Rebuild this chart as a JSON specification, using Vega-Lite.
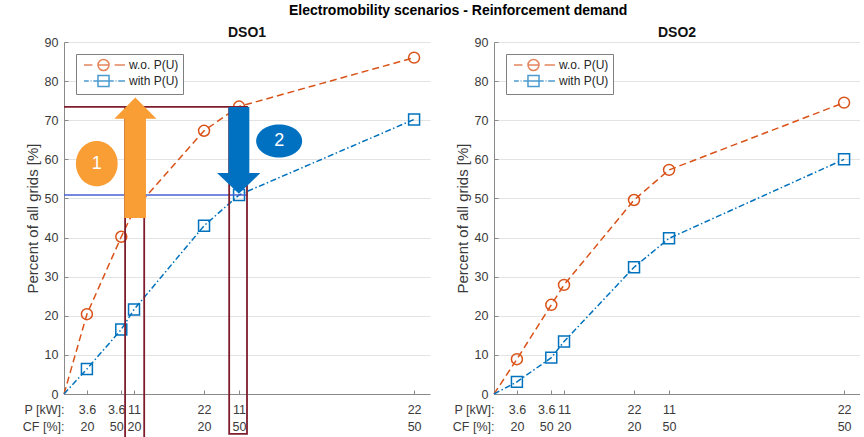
{
  "$schema": "https://vega.github.io/schema/vega-lite/v6.json",
  "background": "white",
  "padding": {"left": 22, "top": 4, "right": 0, "bottom": 0},
  "title": {"text": "Electromobility scenarios - Reinforcement demand", "fontSize": 14, "fontWeight": "bold", "color": "#000000", "anchor": "middle", "dx": 17, "offset": 8},
  "config": {
    "font": "Liberation Sans",
    "view": {"stroke": null},
    "axis": {"labelFont": "Liberation Sans", "labelFontSize": 12.5, "labelColor": "#3a3a3a", "domainColor": "#8a8a8a", "tickColor": "#8a8a8a", "gridColor": "#e3e3e3", "titleFont": "Liberation Sans", "titleFontSize": 15, "titleFontWeight": "normal", "titleColor": "#3a3a3a"},
    "title": {"font": "Liberation Sans", "fontSize": 14, "fontWeight": "bold", "color": "#111111"}
  },
  "resolve": {"scale": {"color": "independent", "shape": "independent"}, "legend": {"color": "independent", "shape": "independent"}},
  "datasets": {
    "curves": [
      {"dso": "DSO1", "curve": "w.o. P(U)", "pcf": 0, "share": 0},
      {"dso": "DSO1", "curve": "w.o. P(U)", "pcf": 72, "share": 20.4},
      {"dso": "DSO1", "curve": "w.o. P(U)", "pcf": 180, "share": 40.2},
      {"dso": "DSO1", "curve": "w.o. P(U)", "pcf": 220, "share": 47},
      {"dso": "DSO1", "curve": "w.o. P(U)", "pcf": 440, "share": 67.3},
      {"dso": "DSO1", "curve": "w.o. P(U)", "pcf": 550, "share": 73.5},
      {"dso": "DSO1", "curve": "w.o. P(U)", "pcf": 1100, "share": 86.0},
      {"dso": "DSO1", "curve": "with P(U)", "pcf": 0, "share": 0},
      {"dso": "DSO1", "curve": "with P(U)", "pcf": 72, "share": 6.4},
      {"dso": "DSO1", "curve": "with P(U)", "pcf": 180, "share": 16.5},
      {"dso": "DSO1", "curve": "with P(U)", "pcf": 220, "share": 21.6},
      {"dso": "DSO1", "curve": "with P(U)", "pcf": 440, "share": 43.0},
      {"dso": "DSO1", "curve": "with P(U)", "pcf": 550, "share": 50.9},
      {"dso": "DSO1", "curve": "with P(U)", "pcf": 1100, "share": 70.2},
      {"dso": "DSO2", "curve": "w.o. P(U)", "pcf": 0, "share": 0},
      {"dso": "DSO2", "curve": "w.o. P(U)", "pcf": 72, "share": 8.9},
      {"dso": "DSO2", "curve": "w.o. P(U)", "pcf": 180, "share": 22.8},
      {"dso": "DSO2", "curve": "w.o. P(U)", "pcf": 220, "share": 27.9},
      {"dso": "DSO2", "curve": "w.o. P(U)", "pcf": 440, "share": 49.6},
      {"dso": "DSO2", "curve": "w.o. P(U)", "pcf": 550, "share": 57.3},
      {"dso": "DSO2", "curve": "w.o. P(U)", "pcf": 1100, "share": 74.5},
      {"dso": "DSO2", "curve": "with P(U)", "pcf": 0, "share": 0},
      {"dso": "DSO2", "curve": "with P(U)", "pcf": 72, "share": 3.1},
      {"dso": "DSO2", "curve": "with P(U)", "pcf": 180, "share": 9.3},
      {"dso": "DSO2", "curve": "with P(U)", "pcf": 220, "share": 13.4},
      {"dso": "DSO2", "curve": "with P(U)", "pcf": 440, "share": 32.4},
      {"dso": "DSO2", "curve": "with P(U)", "pcf": 550, "share": 39.8},
      {"dso": "DSO2", "curve": "with P(U)", "pcf": 1100, "share": 60.0}
    ]
  },
  "spacing": 22,
  "hconcat": [
    {
      "width": 366,
      "height": 352,
      "title": {"text": "DSO1", "offset": -4},
      "layer": [
        {
          "data": {"name": "curves"},
          "transform": [{"filter": "datum.dso == 'DSO1' && datum.curve == 'w.o. P(U)'"}],
          "mark": {"type": "line", "strokeWidth": 1.5, "color": "#D95319", "strokeDash": [7, 4]},
          "encoding": {
            "x": {"field": "pcf", "type": "quantitative", "title": null, "scale": {"domain": [0, 1150], "nice": false, "zero": false},
              "axis": {"values": [0, 72, 180, 220, 440, 550, 1100], "grid": false, "tickSize": -4, "labelPadding": 13, "labelFlush": false, "labelOverlap": false, "labelBound": false, "labelBaseline": "top", "labelLineHeight": 17,
                "labelAlign": {"condition": {"test": "datum.value == 0", "value": "right"}, "value": "center"},
                "labelOffset": {"condition": {"test": "datum.value == 180", "value": -5}, "value": 0},
                "labelExpr": "datum.value == 0 ? ['P [kW]:', 'CF [%]:'] : datum.value == 72 ? ['3.6', '20'] : datum.value == 180 ? ['3.6', '50'] : datum.value == 220 ? ['11', '20'] : datum.value == 440 ? ['22', '20'] : datum.value == 550 ? ['11', '50'] : ['22', '50']"}},
            "y": {"field": "share", "type": "quantitative", "title": "Percent of all grids [%]", "scale": {"domain": [0, 90], "nice": false},
              "axis": {"values": [0, 10, 20, 30, 40, 50, 60, 70, 80, 90], "tickCount": 10, "labelOverlap": false, "grid": true, "tickSize": -4, "labelPadding": 10, "titlePadding": 4}}
          }
        },
        {
          "data": {"name": "curves"},
          "transform": [{"filter": "datum.dso == 'DSO1' && datum.curve == 'with P(U)'"}],
          "mark": {"type": "line", "strokeWidth": 1.5, "color": "#0072BD", "strokeDash": [6, 2.5, 1.5, 2.5]},
          "encoding": {
            "x": {"field": "pcf", "type": "quantitative", "title": null},
            "y": {"field": "share", "type": "quantitative", "title": "Percent of all grids [%]"}
          }
        },
        {
          "data": {"name": "curves"},
          "transform": [{"filter": "datum.dso == 'DSO1' && datum.pcf > 0 && datum.curve == 'w.o. P(U)'"}],
          "mark": {"type": "point", "shape": "circle", "filled": false, "size": 120, "strokeWidth": 1.5, "opacity": 1, "color": "#D95319"},
          "encoding": {
            "x": {"field": "pcf", "type": "quantitative", "title": null},
            "y": {"field": "share", "type": "quantitative", "title": "Percent of all grids [%]"}
          }
        },
        {
          "data": {"name": "curves"},
          "transform": [{"filter": "datum.dso == 'DSO1' && datum.pcf > 0 && datum.curve == 'with P(U)'"}],
          "mark": {"type": "point", "shape": "square", "filled": false, "size": 120, "strokeWidth": 1.5, "opacity": 1, "color": "#0072BD"},
          "encoding": {
            "x": {"field": "pcf", "type": "quantitative", "title": null},
            "y": {"field": "share", "type": "quantitative", "title": "Percent of all grids [%]"}
          }
        },
        {
          "data": {"name": "curves"},
          "transform": [{"filter": "datum.dso == 'DSO1' && datum.pcf == 0"}],
          "mark": {"type": "point", "filled": false, "strokeWidth": 1.5, "size": 0},
          "encoding": {
            "x": {"field": "pcf", "type": "quantitative", "title": null},
            "y": {"field": "share", "type": "quantitative", "title": "Percent of all grids [%]"},
            "color": {"field": "curve", "type": "nominal", "scale": {"domain": ["w.o. P(U)", "with P(U)"], "range": ["#D95319", "#0072BD"]},
              "legend": {"title": null, "orient": "top-left", "offset": 12, "padding": 4, "strokeColor": "#7f7f7f", "fillColor": "white", "labelFontSize": 12, "labelColor": "#262626", "symbolSize": 144, "rowPadding": -3, "labelOffset": 35, "symbolStrokeWidth": 1.5}},
            "shape": {"field": "curve", "type": "nominal", "scale": {"domain": ["w.o. P(U)", "with P(U)"], "range": ["M-0.5,0H0.9M1.83,0H3.67M4.6,0H6.33M1.83,0A0.92,0.92,0,1,0,3.67,0A0.92,0.92,0,1,0,1.83,0Z", "M-0.5,0H0.3M0.6,0H0.75M1.05,0H4.45M4.75,0H4.9M5.2,0H6.33M1.83,-0.92H3.67V0.92H1.83Z"]},
              "legend": {"title": null, "orient": "top-left", "offset": 12, "padding": 4, "strokeColor": "#7f7f7f", "fillColor": "white", "labelFontSize": 12, "labelColor": "#262626", "symbolSize": 144, "rowPadding": -3, "labelOffset": 35, "symbolStrokeWidth": 1.5}}
          }
        },
        {
          "data": {"values": [{"from": 0, "to": 576, "level": 73.4}]},
          "mark": {"type": "rule", "color": "#7f1d2d", "strokeWidth": 1.8},
          "encoding": {
            "x": {"field": "from", "type": "quantitative", "title": null},
            "x2": {"field": "to"},
            "y": {"field": "level", "type": "quantitative", "title": "Percent of all grids [%]"}
          }
        },
        {
          "data": {"values": [{"from": 0, "to": 576, "level": 50.9}]},
          "mark": {"type": "rule", "color": "#4762d4", "strokeWidth": 1.5},
          "encoding": {
            "x": {"field": "from", "type": "quantitative", "title": null},
            "x2": {"field": "to"},
            "y": {"field": "level", "type": "quantitative", "title": "Percent of all grids [%]"}
          }
        },
        {
          "data": {"values": [{"left": 519, "right": 575, "low": -10.2, "high": 73.4}, {"left": 192, "right": 252, "low": -12, "high": 73.4}]},
          "mark": {"type": "rect", "fill": "transparent", "stroke": "#7f1d2d", "strokeWidth": 1.8},
          "encoding": {
            "x": {"field": "left", "type": "quantitative", "title": null},
            "x2": {"field": "right"},
            "y": {"field": "low", "type": "quantitative", "title": "Percent of all grids [%]"},
            "y2": {"field": "high"}
          }
        },
        {
          "data": {"values": [{"left": 189.5, "right": 257.5, "low": 45, "high": 70.6}]},
          "mark": {"type": "rect", "color": "#F99D35", "opacity": 1},
          "encoding": {
            "x": {"field": "left", "type": "quantitative", "title": null},
            "x2": {"field": "right"},
            "y": {"field": "low", "type": "quantitative", "title": "Percent of all grids [%]"},
            "y2": {"field": "high"}
          }
        },
        {
          "data": {"values": [{"pos": 158, "top": 70.4, "base": 70.4}, {"pos": 224, "top": 75.8, "base": 70.4}, {"pos": 290.5, "top": 70.4, "base": 70.4}]},
          "mark": {"type": "area", "color": "#F99D35", "opacity": 1},
          "encoding": {
            "x": {"field": "pos", "type": "quantitative", "title": null},
            "y": {"field": "top", "type": "quantitative", "title": "Percent of all grids [%]"},
            "y2": {"field": "base"}
          }
        },
        {
          "data": {"values": [{"left": 517, "right": 582.3, "low": 56.3, "high": 73.4}]},
          "mark": {"type": "rect", "color": "#0070C0", "opacity": 1},
          "encoding": {
            "x": {"field": "left", "type": "quantitative", "title": null},
            "x2": {"field": "right"},
            "y": {"field": "low", "type": "quantitative", "title": "Percent of all grids [%]"},
            "y2": {"field": "high"}
          }
        },
        {
          "data": {"values": [{"pos": 481, "tip": 56.5, "base": 56.5}, {"pos": 549.5, "tip": 51.2, "base": 56.5}, {"pos": 617, "tip": 56.5, "base": 56.5}]},
          "mark": {"type": "area", "color": "#0070C0", "opacity": 1},
          "encoding": {
            "x": {"field": "pos", "type": "quantitative", "title": null},
            "y": {"field": "tip", "type": "quantitative", "title": "Percent of all grids [%]"},
            "y2": {"field": "base"}
          }
        },
        {
          "data": {"values": [{"pos": 103, "level": 58.9}]},
          "mark": {"type": "point", "shape": "M-1,0A1,1.08,0,1,1,1,0A1,1.08,0,1,1,-1,0Z", "size": 1740, "filled": true, "fill": "#F99D35", "opacity": 1, "strokeWidth": 0},
          "encoding": {
            "x": {"field": "pos", "type": "quantitative", "title": null},
            "y": {"field": "level", "type": "quantitative", "title": "Percent of all grids [%]"}
          }
        },
        {
          "data": {"values": [{"pos": 676, "level": 64.7}]},
          "mark": {"type": "point", "shape": "M-1,0A1,0.72,0,1,1,1,0A1,0.72,0,1,1,-1,0Z", "size": 2116, "filled": true, "fill": "#0070C0", "opacity": 1, "strokeWidth": 0},
          "encoding": {
            "x": {"field": "pos", "type": "quantitative", "title": null},
            "y": {"field": "level", "type": "quantitative", "title": "Percent of all grids [%]"}
          }
        },
        {
          "data": {"values": [{"pos": 103, "level": 58.9, "label": "1"}, {"pos": 676, "level": 64.7, "label": "2"}]},
          "mark": {"type": "text", "color": "white", "fontSize": 18, "align": "center", "baseline": "middle", "font": "Liberation Sans"},
          "encoding": {
            "x": {"field": "pos", "type": "quantitative", "title": null},
            "y": {"field": "level", "type": "quantitative", "title": "Percent of all grids [%]"},
            "text": {"field": "label"}
          }
        }
      ]
    },
    {
      "width": 366,
      "height": 352,
      "title": {"text": "DSO2", "offset": -4},
      "layer": [
        {
          "data": {"name": "curves"},
          "transform": [{"filter": "datum.dso == 'DSO2' && datum.curve == 'w.o. P(U)'"}],
          "mark": {"type": "line", "strokeWidth": 1.5, "color": "#D95319", "strokeDash": [7, 4]},
          "encoding": {
            "x": {"field": "pcf", "type": "quantitative", "title": null, "scale": {"domain": [0, 1150], "nice": false, "zero": false},
              "axis": {"values": [0, 72, 180, 220, 440, 550, 1100], "grid": false, "tickSize": -4, "labelPadding": 13, "labelFlush": false, "labelOverlap": false, "labelBound": false, "labelBaseline": "top", "labelLineHeight": 17,
                "labelAlign": {"condition": {"test": "datum.value == 0", "value": "right"}, "value": "center"},
                "labelOffset": {"condition": {"test": "datum.value == 180", "value": -5}, "value": 0},
                "labelExpr": "datum.value == 0 ? ['P [kW]:', 'CF [%]:'] : datum.value == 72 ? ['3.6', '20'] : datum.value == 180 ? ['3.6', '50'] : datum.value == 220 ? ['11', '20'] : datum.value == 440 ? ['22', '20'] : datum.value == 550 ? ['11', '50'] : ['22', '50']"}},
            "y": {"field": "share", "type": "quantitative", "title": "Percent of all grids [%]", "scale": {"domain": [0, 90], "nice": false},
              "axis": {"values": [0, 10, 20, 30, 40, 50, 60, 70, 80, 90], "tickCount": 10, "labelOverlap": false, "grid": true, "tickSize": -4, "labelPadding": 10, "titlePadding": 4}}
          }
        },
        {
          "data": {"name": "curves"},
          "transform": [{"filter": "datum.dso == 'DSO2' && datum.curve == 'with P(U)'"}],
          "mark": {"type": "line", "strokeWidth": 1.5, "color": "#0072BD", "strokeDash": [6, 2.5, 1.5, 2.5]},
          "encoding": {
            "x": {"field": "pcf", "type": "quantitative", "title": null},
            "y": {"field": "share", "type": "quantitative", "title": "Percent of all grids [%]"}
          }
        },
        {
          "data": {"name": "curves"},
          "transform": [{"filter": "datum.dso == 'DSO2' && datum.pcf > 0 && datum.curve == 'w.o. P(U)'"}],
          "mark": {"type": "point", "shape": "circle", "filled": false, "size": 120, "strokeWidth": 1.5, "opacity": 1, "color": "#D95319"},
          "encoding": {
            "x": {"field": "pcf", "type": "quantitative", "title": null},
            "y": {"field": "share", "type": "quantitative", "title": "Percent of all grids [%]"}
          }
        },
        {
          "data": {"name": "curves"},
          "transform": [{"filter": "datum.dso == 'DSO2' && datum.pcf > 0 && datum.curve == 'with P(U)'"}],
          "mark": {"type": "point", "shape": "square", "filled": false, "size": 120, "strokeWidth": 1.5, "opacity": 1, "color": "#0072BD"},
          "encoding": {
            "x": {"field": "pcf", "type": "quantitative", "title": null},
            "y": {"field": "share", "type": "quantitative", "title": "Percent of all grids [%]"}
          }
        },
        {
          "data": {"name": "curves"},
          "transform": [{"filter": "datum.dso == 'DSO2' && datum.pcf == 0"}],
          "mark": {"type": "point", "filled": false, "strokeWidth": 1.5, "size": 0},
          "encoding": {
            "x": {"field": "pcf", "type": "quantitative", "title": null},
            "y": {"field": "share", "type": "quantitative", "title": "Percent of all grids [%]"},
            "color": {"field": "curve", "type": "nominal", "scale": {"domain": ["w.o. P(U)", "with P(U)"], "range": ["#D95319", "#0072BD"]},
              "legend": {"title": null, "orient": "top-left", "offset": 12, "padding": 4, "strokeColor": "#7f7f7f", "fillColor": "white", "labelFontSize": 12, "labelColor": "#262626", "symbolSize": 144, "rowPadding": -3, "labelOffset": 35, "symbolStrokeWidth": 1.5}},
            "shape": {"field": "curve", "type": "nominal", "scale": {"domain": ["w.o. P(U)", "with P(U)"], "range": ["M-0.5,0H0.9M1.83,0H3.67M4.6,0H6.33M1.83,0A0.92,0.92,0,1,0,3.67,0A0.92,0.92,0,1,0,1.83,0Z", "M-0.5,0H0.3M0.6,0H0.75M1.05,0H4.45M4.75,0H4.9M5.2,0H6.33M1.83,-0.92H3.67V0.92H1.83Z"]},
              "legend": {"title": null, "orient": "top-left", "offset": 12, "padding": 4, "strokeColor": "#7f7f7f", "fillColor": "white", "labelFontSize": 12, "labelColor": "#262626", "symbolSize": 144, "rowPadding": -3, "labelOffset": 35, "symbolStrokeWidth": 1.5}}
          }
        }
      ]
    }
  ]
}
